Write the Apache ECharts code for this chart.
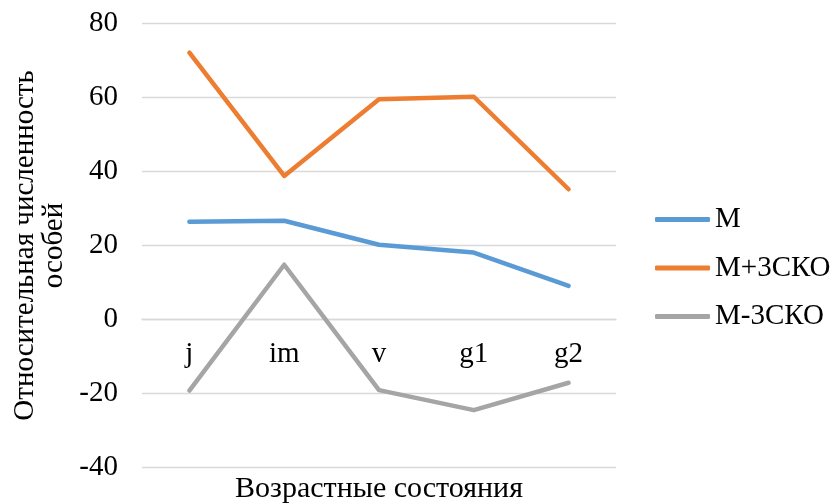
<!DOCTYPE html>
<html>
<head>
<meta charset="utf-8">
<script src="https://cdn.jsdelivr.net/npm/echarts@6/dist/echarts.min.js"></script>
<style>
  html, body { margin: 0; padding: 0; background: #ffffff; }
  #chart { width: 834px; height: 504px; }
</style>
</head>
<body>
<div id="chart"></div>
<script>
// Age states along the x axis
const categories = ['j', 'im', 'v', 'g1', 'g2'];
// Mean relative abundance and the ±3σ bounds
const meanValues = [26.4, 26.7, 20.2, 18.1, 9.1];
const upperValues = [72.1, 38.8, 59.5, 60.2, 35.2];
const lowerValues = [-19.2, 14.8, -19.1, -24.5, -17.1];
// Y axis ticks
const yMin = -40;
const yMax = 80;
const yStep = 20;

const FONT = '"Liberation Serif", "Times New Roman", serif';
const gridColor = '#D9D9D9';
const GRID_BOTTOM = 36.5;

const chart = echarts.init(document.getElementById('chart'), null, { renderer: 'canvas' });

function lineSeries(name, data, color) {
  return {
    name: name,
    type: 'line',
    data: data,
    symbol: 'none',
    smooth: false,
    lineStyle: { color: color, width: 4.5, cap: 'round', join: 'round' },
    itemStyle: { color: color },
    emphasis: { disabled: true }
  };
}

chart.setOption({
  animation: false,
  backgroundColor: '#ffffff',
  textStyle: { fontFamily: FONT, color: '#000000' },
  grid: {
    left: 142, right: 218, top: 23.5, bottom: GRID_BOTTOM,
    containLabel: false,
    outerBoundsMode: 'none'
  },
  legend: {
    orient: 'vertical',
    left: 655,
    top: 205,
    padding: 0,
    itemWidth: 55,
    itemHeight: 5,
    itemGap: 19.5,
    icon: 'roundRect',
    textStyle: { fontFamily: FONT, fontSize: 29, color: '#000000', lineHeight: 29 },
    data: ['M', 'M+3СКО', 'M-3СКО']
  },
  xAxis: {
    type: 'category',
    data: categories,
    boundaryGap: true,
    position: 'bottom',
    axisLine: { show: true, onZero: false, lineStyle: { color: gridColor, width: 1.3 } },
    axisTick: { show: false },
    axisLabel: { fontFamily: FONT, fontSize: 29, color: '#000000', margin: 20 },
    splitLine: { show: false }
  },
  yAxis: {
    type: 'value',
    min: yMin,
    max: yMax,
    interval: yStep,
    name: 'Относительная численность\nособей',
    nameLocation: 'middle',
    nameGap: 70,
    nameRotate: 90,
    nameTextStyle: { fontFamily: FONT, fontSize: 29, color: '#000000', lineHeight: 29 },
    axisLine: { show: false },
    axisTick: { show: false },
    axisLabel: { fontFamily: FONT, fontSize: 29, color: '#000000', margin: 24 },
    splitLine: { show: true, lineStyle: { color: gridColor, width: 1.3 } }
  },
  graphic: [{
    type: 'text',
    x: 379,
    y: 489,
    style: {
      text: 'Возрастные состояния',
      font: '30px ' + FONT,
      fill: '#000000',
      align: 'center',
      verticalAlign: 'middle'
    }
  }],
  series: [
    lineSeries('M', meanValues, '#5B9BD5'),
    lineSeries('M+3СКО', upperValues, '#ED7D31'),
    lineSeries('M-3СКО', lowerValues, '#A5A5A5')
  ]
});

// Move the category axis (line and labels) up to the y = 0 level
const zeroY = chart.convertToPixel({ yAxisIndex: 0 }, 0);
const bottomY = chart.getHeight() - GRID_BOTTOM;
chart.setOption({ xAxis: { offset: -(bottomY - zeroY) } });
</script>
</body>
</html>
